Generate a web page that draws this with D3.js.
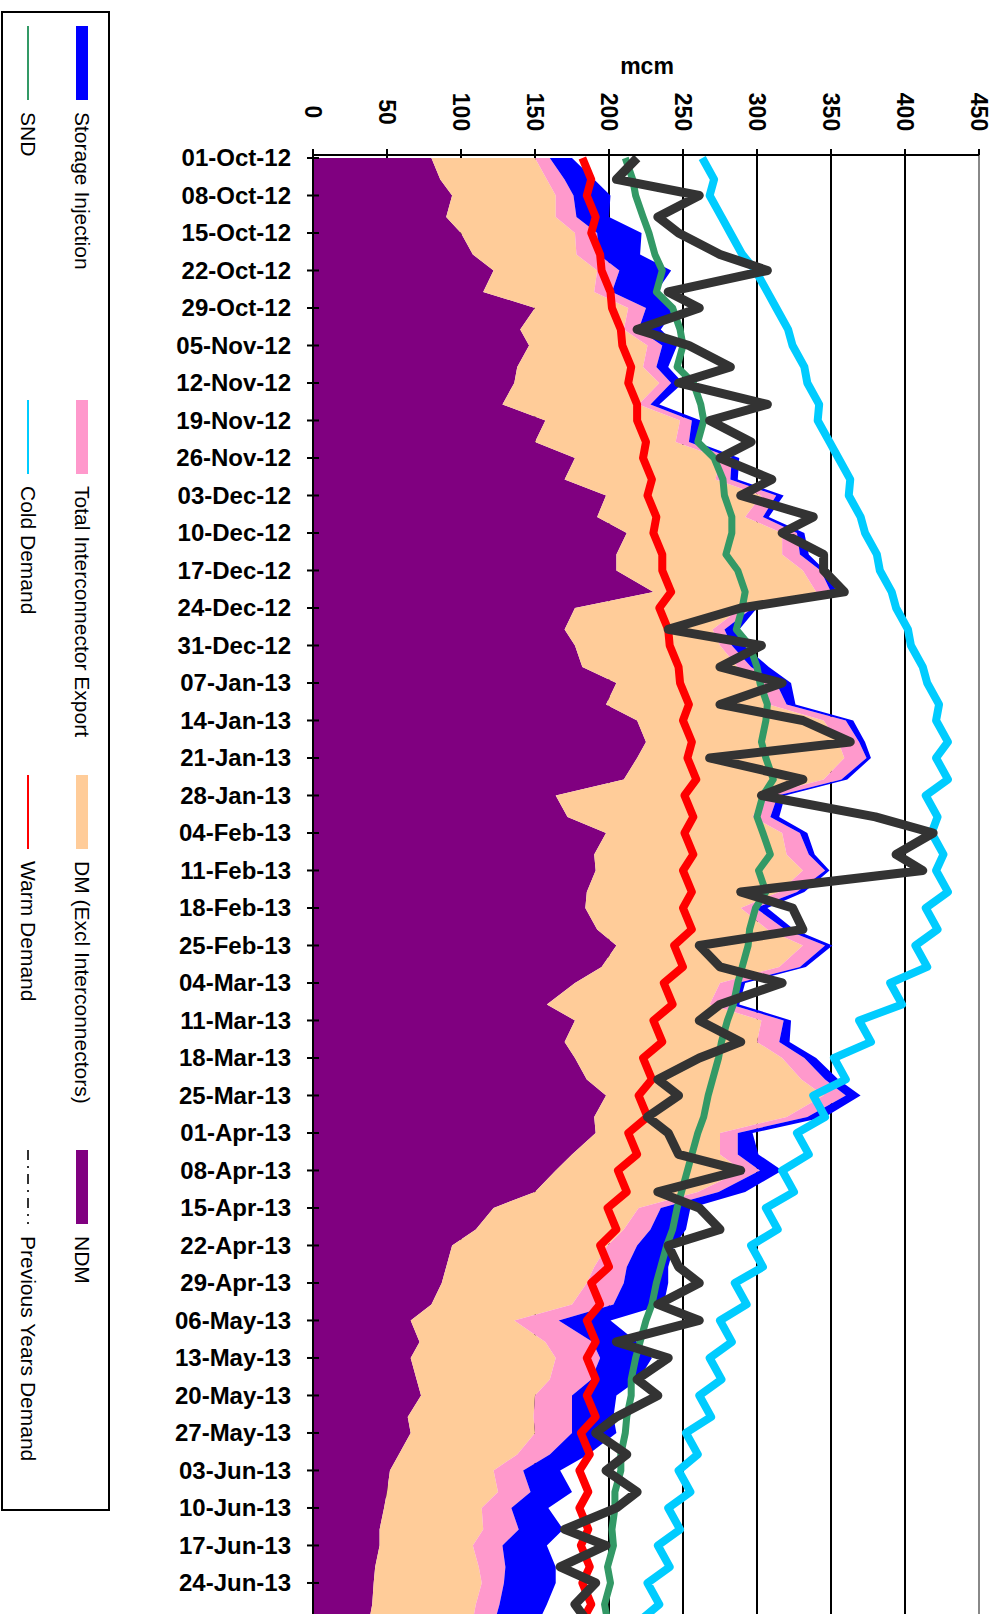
<!DOCTYPE html>
<html>
<head>
<meta charset="utf-8">
<style>
body,html{margin:0;background:#fff;}
text{font-family:"Liberation Sans",Arial,sans-serif;}
</style>
<script src="https://cdn.jsdelivr.net/npm/d3@7/dist/d3.min.js"></script>
</head>
<body>
<svg id="chart" width="1002" height="1614"></svg>
<script>
// two samples per week (Mon and Fri), starting 01-Oct-12
var ndm = [80,86, 94,90, 100,108, 122,115, 150,140, 146,138, 136,128, 157,150, 177,170,
  198,192, 212,205, 205,230, 177,170, 177,182, 205,198, 219,225, 219,210, 164,172,
  198,190, 191,185, 184,192, 205,195, 177,158, 177,170, 177,185, 198,190, 191,175,
  164,150, 122,110, 94,90, 87,80, 66,72, 66,70, 73,64, 66,58, 52,50, 48,45, 45,42, 41,40, 38,37];
var dm = [70,72, 70,74, 77,70, 70,75, 63,70, 80,85, 98,92, 91,95, 98,102, 105,100,
  105,112, 126,110, 112,100, 98,105, 98,110, 126,130, 140,135, 140,125, 119,130, 140,130,
  105,115, 126,120, 98,110, 126,130, 140,145, 147,130, 84,100, 126,110, 98,100, 105,100,
  98,95, 70,85, 98,90, 77,85, 84,80, 70,75, 66,70, 63,70, 73,70, 70,68];
var ic = [10,12, 12,14, 15,15, 15,12, 12,10, 10,9, 8,8, 8,9, 8,10, 10,12, 10,12, 12,10,
  8,8, 8,9, 10,12, 15,14, 15,12, 10,12, 12,15, 15,12, 10,12, 15,14, 12,14, 15,15,
  15,16, 15,14, 12,12, 12,14, 15,18, 20,22, 25,28, 30,32, 30,28, 25,26, 25,22, 20,22,
  20,24, 20,18, 15,16, 15,14];
var si = [15,20, 25,22, 30,28, 35,30, 20,15, 10,8, 8,6, 6,5, 5,5, 5,4, 5,6, 3,4, 3,10,
  8,12, 10,6, 5,4, 3,4, 5,6, 5,4, 3,5, 8,6, 5,4, 5,6, 5,7, 8,9, 10,12, 10,14, 15,18,
  20,24, 25,28, 30,34, 35,30, 35,32, 30,28, 30,26, 25,28, 25,30, 30,34, 35,32, 30,28];
var snd = [211,216, 218,223, 227,231, 236,232, 243,248, 250,246, 257,262, 264,260, 271,277,
  278,283, 283,279, 287,292, 290,286, 295,300, 302,307, 306,303, 306,311, 304,300, 304,309,
  301,306, 299,295, 294,290, 287,284, 280,276, 274,270, 267,264, 260,256, 253,249, 246,243,
  239,235, 232,229, 225,221, 218,215, 215,212, 211,208, 208,204, 204,202, 203,199, 201,197, 199,196];
var cold = [263,271, 268,276, 282,290, 299,307, 313,321, 324,332, 334,342, 341,349, 355,363,
  362,370, 373,381, 383,391, 394,402, 404,412, 415,423, 421,429, 421,429, 414,422, 418,426,
  421,429, 414,422, 407,415, 390,398, 369,377, 352,360, 338,346, 327,335, 317,325, 306,314,
  296,304, 285,293, 275,283, 268,276, 261,269, 252,260, 247,255, 240,248, 233,241, 226,234, 221,229];
var warm = [182,188, 185,191, 188,194, 195,201, 202,208, 209,215, 213,219, 219,225, 223,229,
  226,232, 230,236, 236,242, 234,240, 241,247, 248,254, 250,256, 253,259, 251,257, 251,257,
  250,256, 250,256, 244,250, 237,243, 230,236, 223,229, 220,226, 213,219, 206,212, 199,205,
  194,200, 188,194, 185,191, 185,191, 185,191, 181,187, 180,186, 180,186, 181,187, 182,188, 182,188];
var prev = [219,205, 261,233, 247,275, 307,240, 261,219, 254,282, 247,307, 268,296, 275,310,
  289,338, 317,345, 345,359, 289,240, 303,275, 317,275, 331,363, 268,331, 303,380, 419,394,
  412,289, 324,331, 261,275, 317,275, 261,289, 261,233, 247,226, 240,247, 289,233, 261,275,
  240,247, 261,233, 261,205, 240,219, 233,205, 191,212, 198,219, 205,170, 198,167, 191,177, 185,174];
var tickDates = ["01-Oct-12","08-Oct-12","15-Oct-12","22-Oct-12","29-Oct-12","05-Nov-12","12-Nov-12",
  "19-Nov-12","26-Nov-12","03-Dec-12","10-Dec-12","17-Dec-12","24-Dec-12","31-Dec-12","07-Jan-13",
  "14-Jan-13","21-Jan-13","28-Jan-13","04-Feb-13","11-Feb-13","18-Feb-13","25-Feb-13","04-Mar-13",
  "11-Mar-13","18-Mar-13","25-Mar-13","01-Apr-13","08-Apr-13","15-Apr-13","22-Apr-13","29-Apr-13",
  "06-May-13","13-May-13","20-May-13","27-May-13","03-Jun-13","10-Jun-13","17-Jun-13","24-Jun-13"];
var valueTicks = [0,50,100,150,200,250,300,350,400,450];

var days = [];
for (var w = 0; w < ndm.length / 2; w++) { days.push(w * 7); days.push(w * 7 + 4); }
var rows = days.map(function(d, i){
  return {day:d, ndm:ndm[i], dm:dm[i], ic:ic[i], si:si[i], snd:snd[i], cold:cold[i], warm:warm[i], prev:prev[i]};
});

var svg = d3.select("#chart");
var x = d3.scaleLinear().domain([0,450]).range([313,979]);
var y = d3.scaleLinear().domain([0,272]).range([158,158+272*5.357]);

// gridlines
svg.append("g").selectAll("line").data(valueTicks.slice(1)).enter().append("line")
  .attr("x1", function(d){return x(d);}).attr("x2", function(d){return x(d);})
  .attr("y1", 155).attr("y2", 1614)
  .attr("stroke", function(d){return d == 450 ? "#888" : "#000";}).attr("stroke-width", 2);

// stacked areas
var keys = ["ndm","dm","ic","si"];
var colors = {ndm:"#800080", dm:"#FFCC99", ic:"#FF99CC", si:"#0000FF"};
var stack = d3.stack().keys(keys)(rows);
var area = d3.area().y(function(d){return y(d.data.day);})
  .x0(function(d){return x(d[0]);}).x1(function(d){return x(d[1]);});
svg.append("g").selectAll("path").data(stack).enter().append("path")
  .attr("d", area).attr("fill", function(d){return colors[d.key];});

// lines
var lines = [["warm","#FF0000",8],["snd","#339966",7],["cold","#00CCFF",8],["prev","#333333",9]];
lines.forEach(function(l){
  svg.append("path").datum(rows)
    .attr("d", d3.line().x(function(d){return x(d[l[0]]);}).y(function(d){return y(d.day);}))
    .attr("fill","none").attr("stroke", l[1]).attr("stroke-width", l[2]).attr("stroke-linejoin","round");
});

// top value axis
svg.append("line").attr("x1",313).attr("x2",979).attr("y1",155).attr("y2",155).attr("stroke","#000").attr("stroke-width",2);
var vt = svg.append("g").selectAll("g").data(valueTicks).enter().append("g");
vt.append("line").attr("x1",function(d){return x(d);}).attr("x2",function(d){return x(d);})
  .attr("y1",149).attr("y2",155).attr("stroke","#000").attr("stroke-width",2);
vt.append("text").attr("transform",function(d){return "translate("+x(d)+",112) rotate(90)";})
  .attr("text-anchor","middle").attr("dy","0.35em").attr("font-size",23).attr("font-weight","bold")
  .text(function(d){return d;});
svg.append("text").attr("x",647).attr("y",74).attr("text-anchor","middle")
  .attr("font-size",23).attr("font-weight","bold").text("mcm");

// left date axis
svg.append("line").attr("x1",313).attr("x2",313).attr("y1",155).attr("y2",1614).attr("stroke","#000").attr("stroke-width",2);
var dt = svg.append("g").selectAll("g").data(tickDates).enter().append("g");
dt.append("line").attr("x1",307).attr("x2",319).attr("y1",function(d,i){return y(i*7);})
  .attr("y2",function(d,i){return y(i*7);}).attr("stroke","#000").attr("stroke-width",2);
dt.append("text").attr("x",291).attr("y",function(d,i){return y(i*7);}).attr("dy","0.35em")
  .attr("text-anchor","end").attr("font-size",24).attr("font-weight","bold").text(function(d){return d;});

// legend
var lg = svg.append("g");
lg.append("rect").attr("x",2).attr("y",12).attr("width",107).attr("height",1498)
  .attr("fill","#fff").attr("stroke","#000").attr("stroke-width",2);
var legendItems = [
  {label:"Storage Injection", col:0, row:0, type:"rect", color:"#0000FF"},
  {label:"Total Interconnector Export", col:0, row:1, type:"rect", color:"#FF99CC"},
  {label:"DM (Excl Interconnectors)", col:0, row:2, type:"rect", color:"#FFCC99"},
  {label:"NDM", col:0, row:3, type:"rect", color:"#800080"},
  {label:"SND", col:1, row:0, type:"line", color:"#339966"},
  {label:"Cold Demand", col:1, row:1, type:"line", color:"#00CCFF"},
  {label:"Warm Demand", col:1, row:2, type:"line", color:"#FF0000"},
  {label:"Previous Years Demand", col:1, row:3, type:"dash", color:"#333333"}
];
var rowY = [26,400,775,1150];
var colX = [82,28];
legendItems.forEach(function(it){
  var cx = colX[it.col], y0 = rowY[it.row];
  if (it.type == "rect") {
    lg.append("rect").attr("x",cx-6).attr("y",y0).attr("width",12).attr("height",74).attr("fill",it.color);
  } else {
    lg.append("line").attr("x1",cx).attr("x2",cx).attr("y1",y0).attr("y2",y0+74)
      .attr("stroke",it.color).attr("stroke-width",2)
      .attr("stroke-dasharray", it.type == "dash" ? "10,6,2,6" : null);
  }
  lg.append("text").attr("transform","translate("+cx+","+(y0+86)+") rotate(90)")
    .attr("dy","0.35em").attr("font-size",21).text(it.label);
});
</script>
</body>
</html>
